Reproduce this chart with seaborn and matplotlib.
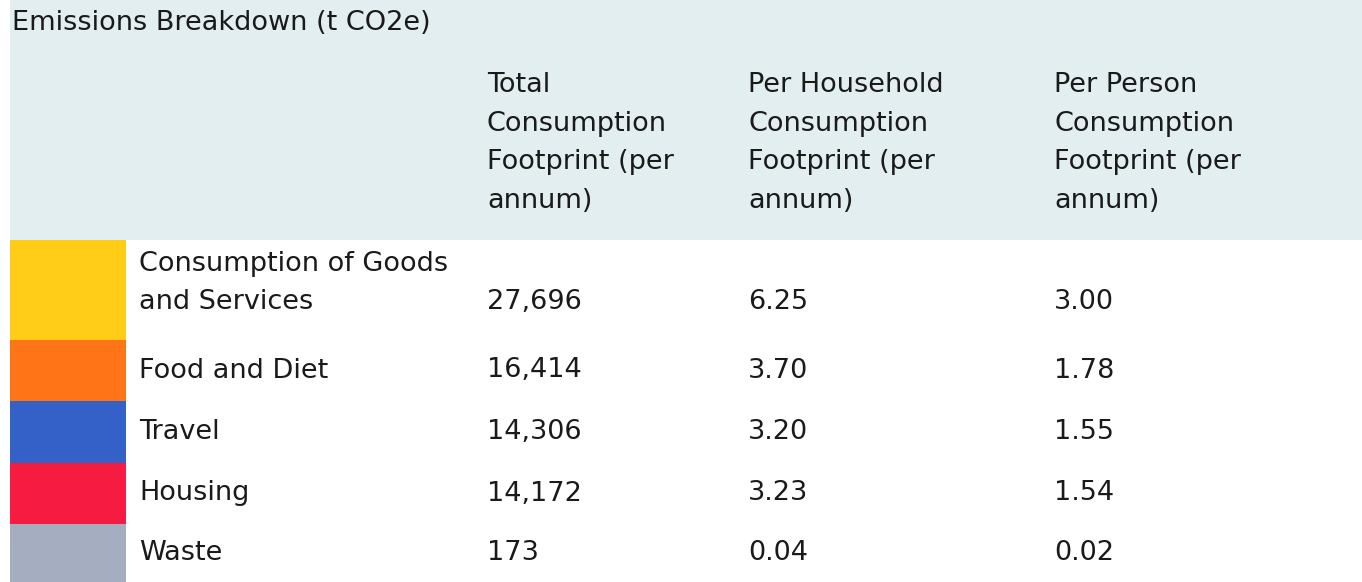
import matplotlib
matplotlib.use("Agg")
import matplotlib.pyplot as plt
import seaborn as sns

# table content
title = "Emissions Breakdown (t CO2e)"
col_headers = [
    "Total\nConsumption\nFootprint (per\nannum)",
    "Per Household\nConsumption\nFootprint (per\nannum)",
    "Per Person\nConsumption\nFootprint (per\nannum)",
]
categories = ["Consumption of Goods\nand Services", "Food and Diet", "Travel", "Housing", "Waste"]
total = ["27,696", "16,414", "14,306", "14,172", "173"]
per_household = ["6.25", "3.70", "3.20", "3.23", "0.04"]
per_person = ["3.00", "1.78", "1.55", "1.54", "0.02"]
swatch_colors = ["#FFCD18", "#FF7417", "#3461C8", "#F61B40", "#A4AEC0"]

sns.set_theme(style="white")
plt.rcParams['font.family'] = ['DejaVu Sans']

W, H = 1362, 582
fig = plt.figure(figsize=(W / 100, H / 100), dpi=100)
ax = fig.add_axes([0, 0, 1, 1])
ax.set_xlim(0, W)
ax.set_ylim(H, 0)
ax.axis("off")

txt = "#1a1a1a"
fs = 19.5

# header band
ax.add_patch(plt.Rectangle((10, 0), W - 10, 240, color="#E2EEF0", lw=0))
ax.text(12, 23, title, fontsize=fs, color=txt, va="center", ha="left")

col_x = [487, 748, 1054]
for x, h in zip(col_x, col_headers):
    ax.text(x, 143, h, fontsize=fs, color=txt, va="center", ha="left", linespacing=1.64)

# rows: boundaries in px
row_edges = [240, 340, 401, 463, 524, 582]
swatch_x0, swatch_x1 = 10, 126
for i, cat in enumerate(categories):
    y0, y1 = row_edges[i], row_edges[i + 1]
    ax.bar(swatch_x0, y1 - y0, width=swatch_x1 - swatch_x0, bottom=y0,
           align="edge", color=swatch_colors[i], lw=0)
    if i == 0:
        ax.text(139, 283, cat, fontsize=fs, color=txt, va="center", ha="left", linespacing=1.64)
        vy = 302
    else:
        ax.text(139, (y0 + y1) / 2, cat, fontsize=fs, color=txt, va="center", ha="left")
        vy = (y0 + y1) / 2
    for x, vals in zip(col_x, [total, per_household, per_person]):
        ax.text(x, vy, vals[i], fontsize=fs, color=txt, va="center", ha="left")

fig.savefig("out.png", dpi=100)
